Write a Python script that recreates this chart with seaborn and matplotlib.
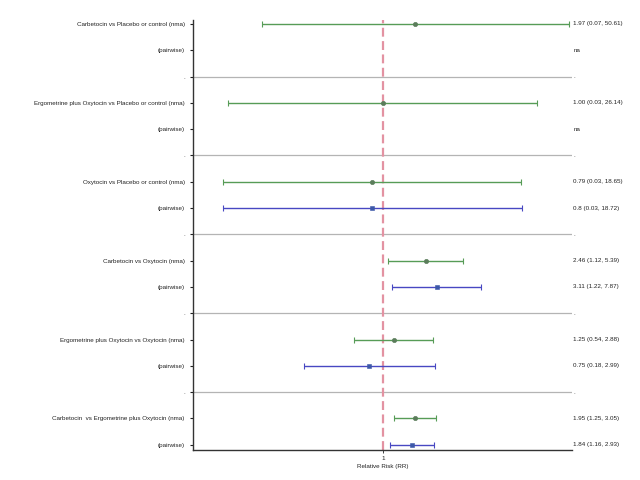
import numpy as np
import pandas as pd
import matplotlib
matplotlib.use("Agg")
import matplotlib.pyplot as plt
import seaborn as sns

# comparisons, network meta-analysis (nma) and direct (pairwise) estimates
comparisons = [
    "Carbetocin vs Placebo or control",
    "Ergometrine plus Oxytocin vs Placebo or control",
    "Oxytocin vs Placebo or control",
    "Carbetocin vs Oxytocin",
    "Ergometrine plus Oxytocin vs Oxytocin",
    "Carbetocin  vs Ergometrine plus Oxytocin",
]
nma_rr = [1.97, 1.00, 0.79, 2.46, 1.25, 1.95]
nma_lo = [0.077, 0.038, 0.034, 1.12, 0.54, 1.25]
nma_hi = [50.61, 26.14, 18.65, 5.39, 2.88, 3.05]
nma_text = ["1.97 (0.07, 50.61)", "1.00 (0.03, 26.14)", "0.79 (0.03, 18.65)",
            "2.46 (1.12, 5.39)", "1.25 (0.54, 2.88)", "1.95 (1.25, 3.05)"]
pw_rr = [np.nan, np.nan, 0.80, 3.11, 0.75, 1.84]
pw_lo = [np.nan, np.nan, 0.034, 1.22, 0.188, 1.16]
pw_hi = [np.nan, np.nan, 18.72, 7.87, 2.99, 2.93]
pw_text = ["na", "na", "0.8 (0.03, 18.72)", "3.11 (1.22, 7.87)",
           "0.75 (0.18, 2.99)", "1.84 (1.16, 2.93)"]

# build the row layout: nma row, pairwise row, separator
rows = []
for i, comp in enumerate(comparisons):
    base = i * 3
    rows.append(dict(pos=base, label=comp + " (nma)", kind="nma",
                     rr=nma_rr[i], lo=nma_lo[i], hi=nma_hi[i], text=nma_text[i]))
    rows.append(dict(pos=base + 1, label="(pairwise)", kind="pairwise",
                     rr=pw_rr[i], lo=pw_lo[i], hi=pw_hi[i], text=pw_text[i]))
    if i < len(comparisons) - 1:
        rows.append(dict(pos=base + 2, label=".", kind="sep",
                         rr=np.nan, lo=np.nan, hi=np.nan, text="."))
df = pd.DataFrame(rows)

sns.set_theme(style="white")
plt.rcParams["font.family"] = ["Liberation Sans", "DejaVu Sans"]

fig = plt.figure(figsize=(6.4, 4.8), dpi=100)
ax = fig.add_axes([0.3016, 0.0625, 0.5922, 0.8958])

colors = {"nma": "#579c57", "pairwise": "#4848c2"}
mcolors = {"nma": "#5b7d5b", "pairwise": "#3c58a8"}
markers = {"nma": "o", "pairwise": "s"}

# separators between comparisons
for p in df.loc[df["kind"] == "sep", "pos"]:
    ax.axhline(p, color="#b4b4b4", lw=0.9, zorder=1)

ax.axvline(1, color="#e392a2", lw=1.6, ls=(0, (4, 2)), zorder=2)

for kind in ["nma", "pairwise"]:
    sub = df[(df["kind"] == kind) & df["rr"].notna()]
    ax.errorbar(sub["rr"], sub["pos"],
                xerr=[sub["rr"] - sub["lo"], sub["hi"] - sub["rr"]],
                fmt="none", ecolor=colors[kind], elinewidth=1.0,
                capsize=2.0, capthick=0.8, zorder=3)
    sns.scatterplot(data=sub, x="rr", y="pos", marker=markers[kind],
                    color=mcolors[kind], s=10, edgecolor=mcolors[kind],
                    linewidth=0.4, ax=ax, zorder=4, legend=False)

# value column on the right
for _, r in df.iterrows():
    ax.annotate(r["text"], xy=(1.003, r["pos"]),
                xycoords=("axes fraction", "data"),
                ha="left", va="center", fontsize=4.5, color="#222222",
                annotation_clip=False)

ax.set_xscale("log")
ax.set_xlim(0.018, 54.5)
ax.set_ylim(16.2, -0.15)
ax.set_xticks([1])
ax.set_xticklabels(["1"])
ax.xaxis.set_minor_locator(matplotlib.ticker.NullLocator())
ax.set_yticks(df["pos"])
ax.set_yticklabels(df["label"])
ax.tick_params(axis="y", labelsize=4.5, length=2.5, width=0.8, pad=3.5,
               left=True, colors="#222222")
ax.tick_params(axis="x", labelsize=4.5, length=2, width=0.6, pad=2,
               bottom=True, colors="#222222")
ax.set_xlabel("Relative Risk (RR)", fontsize=4.5, labelpad=2.5, color="#222222")
ax.set_ylabel("")

sns.despine(ax=ax, top=True, right=True)
for side in ["left", "bottom"]:
    ax.spines[side].set_color("#333333")
    ax.spines[side].set_linewidth(1.0)

fig.savefig("out.png", dpi=100)
